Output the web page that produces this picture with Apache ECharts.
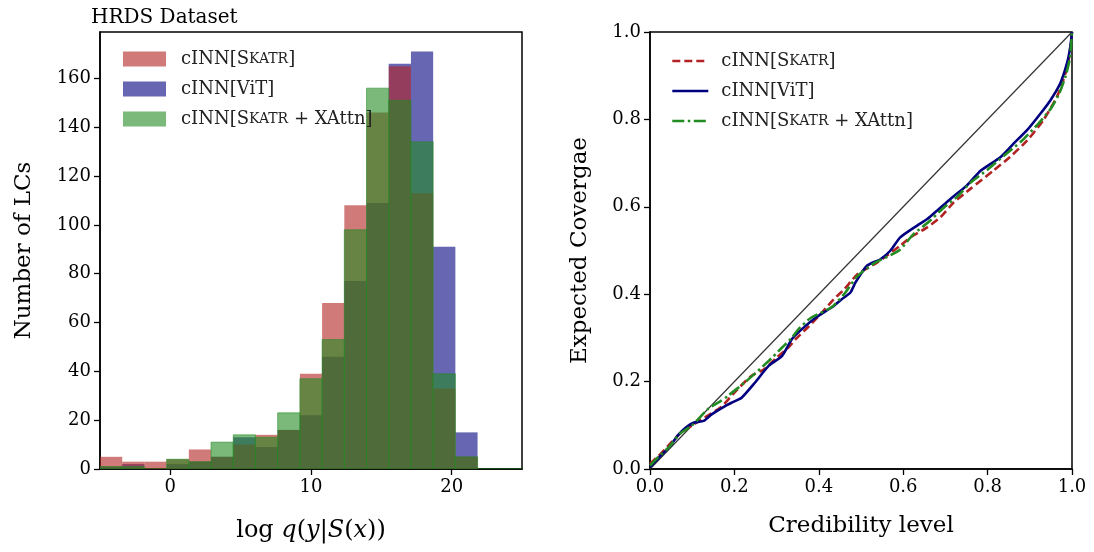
<!DOCTYPE html>
<html><head><meta charset="utf-8">
<script src="https://cdn.jsdelivr.net/npm/echarts@6/dist/echarts.min.js"></script>
<style>html,body{margin:0;padding:0;background:#fff}#c{width:1094px;height:552px}</style>
</head><body><div id="c"></div>
<script>
// ---- Histogram data (left panel) ----
const binStart = -5;
const binEnd = 25;
const countsSkatr = [5, 3, 3, 4, 8, 5, 10, 14, 16, 39, 68, 108, 146, 165, 113, 33, 5, 0, 0];
const countsViT   = [1, 2, 0, 2, 3, 5, 13, 9, 16, 22, 46, 77, 109, 166, 171, 91, 15, 0, 0];
const countsXAttn = [1, 1, 0, 4, 3, 11, 14, 13, 23, 37, 53, 98, 156, 151, 134, 39, 5, 0, 0];
const histTicks = [0, 10, 20];
const histYTicks = [0, 20, 40, 60, 80, 100, 120, 140, 160];

// ---- Coverage data (right panel) ----
const credSkatr = [0, 0.02, 0.045, 0.07, 0.1, 0.13, 0.17, 0.2, 0.24, 0.27, 0.3, 0.33, 0.345, 0.377, 0.4, 0.436, 0.46, 0.492, 0.539, 0.593, 0.617, 0.657, 0.688, 0.72, 0.759, 0.814, 0.853, 0.894, 0.932, 0.964, 0.979, 0.991, 1.0];
const covSkatr  = [0.012, 0.03, 0.055, 0.08, 0.1, 0.118, 0.143, 0.175, 0.213, 0.228, 0.255, 0.28, 0.297, 0.327, 0.35, 0.389, 0.411, 0.446, 0.473, 0.511, 0.53, 0.553, 0.576, 0.61, 0.641, 0.683, 0.714, 0.752, 0.798, 0.851, 0.889, 0.928, 1.0];
const credViT = [0, 0.02, 0.047, 0.067, 0.085, 0.103, 0.127, 0.146, 0.178, 0.194, 0.217, 0.249, 0.281, 0.313, 0.336, 0.36, 0.391, 0.431, 0.455, 0.475, 0.487, 0.514, 0.546, 0.57, 0.593, 0.633, 0.657, 0.68, 0.712, 0.751, 0.784, 0.831, 0.862, 0.894, 0.925, 0.949, 0.972, 0.988, 0.996, 1.0];
const covViT  = [0.005, 0.025, 0.052, 0.078, 0.095, 0.106, 0.11, 0.125, 0.144, 0.152, 0.163, 0.198, 0.236, 0.259, 0.297, 0.32, 0.345, 0.37, 0.389, 0.404, 0.427, 0.465, 0.48, 0.5, 0.53, 0.557, 0.572, 0.591, 0.618, 0.649, 0.683, 0.714, 0.745, 0.776, 0.813, 0.844, 0.882, 0.928, 0.966, 1.0];
const credXAttn = [0, 0.02, 0.045, 0.07, 0.1, 0.137, 0.168, 0.184, 0.227, 0.281, 0.313, 0.336, 0.352, 0.38, 0.43, 0.46, 0.49, 0.53, 0.59, 0.625, 0.66, 0.696, 0.73, 0.759, 0.8, 0.84, 0.88, 0.92, 0.95, 0.97, 0.985, 0.995, 1.0];
const covXAttn  = [0.008, 0.028, 0.05, 0.08, 0.1, 0.137, 0.156, 0.167, 0.2, 0.247, 0.278, 0.3, 0.32, 0.345, 0.37, 0.4, 0.44, 0.47, 0.5, 0.538, 0.565, 0.598, 0.625, 0.655, 0.685, 0.718, 0.75, 0.79, 0.825, 0.86, 0.9, 0.94, 1.0];

const FONT = 'DejaVu Serif';
const nBins = countsSkatr.length;
const bw = (binEnd - binStart) / nBins;
function histData(counts) {
  return counts.map((c, i) => [binStart + i * bw, binStart + (i + 1) * bw, c]);
}
function pairs(xs, ys) { return xs.map((x, i) => [x, ys[i]]); }

function histSeries(name, counts, fill, stroke) {
  return {
    name: name, type: 'custom', xAxisIndex: 0, yAxisIndex: 0,
    data: histData(counts), encode: { x: [0, 1], y: 2 },
    itemStyle: { color: fill },
    clip: true,
    renderItem: function (params, api) {
      const p0 = api.coord([api.value(0), api.value(2)]);
      const p1 = api.coord([api.value(1), 0]);
      return {
        type: 'rect',
        shape: { x: p0[0], y: p0[1], width: p1[0] - p0[0], height: p1[1] - p0[1] },
        style: { fill: fill, stroke: stroke, lineWidth: stroke ? 1 : 0 }
      };
    }
  };
}

const tickStyle = { show: true, inside: false, length: 6, lineStyle: { color: '#000', width: 1.3 } };
const axisLine = { show: true, onZero: false, lineStyle: { color: '#000', width: 1.5 } };
const labelStyle = { color: '#000', fontFamily: FONT, fontSize: 18, margin: 9 };

const nameSK = 'cINN[SKATR]';
const nameViT = 'cINN[ViT]';
const nameXA = 'cINN[SKATR + XAttn]';
function fmtLegend(n) {
  if (n === nameSK) return '{a|cINN[S}{b|KATR}{a|]}';
  if (n === nameXA) return '{a|cINN[S}{b|KATR}{a| + XAttn]}';
  return '{a|' + n + '}';
}
const legendRich = {
  a: { fontFamily: FONT, fontSize: 18, color: '#222' },
  b: { fontFamily: FONT, fontSize: 14, color: '#222' }
};

const option = {
  backgroundColor: '#fff',
  animation: false,
  title: { text: 'HRDS Dataset', left: 86, top: 3, textStyle: { fontFamily: FONT, fontSize: 20, fontWeight: 'normal', color: '#000' } },
  grid: [
    { left: 100, right: 572, top: 32, bottom: 83, show: true, borderColor: '#000', borderWidth: 1.5, backgroundColor: 'transparent' },
    { left: 650, right: 22, top: 32, bottom: 83, show: true, borderColor: '#000', borderWidth: 1.5, backgroundColor: 'transparent' }
  ],
  legend: [
    { data: [nameSK, nameViT, nameXA], orient: 'vertical', left: 118, top: 45, itemWidth: 43, itemHeight: 15, itemGap: 12, icon: 'rect',
      formatter: fmtLegend, textStyle: { rich: legendRich, padding: [0, 0, 0, 10] } },
    { data: [nameSK + ' ', nameViT + ' ', nameXA + ' '], orient: 'vertical', left: 666, top: 47, itemWidth: 36, itemHeight: 12, itemGap: 12,
      itemStyle: { opacity: 0, color: 'rgba(0,0,0,0)', borderWidth: 0 },
      lineStyle: { width: 2.6 },
      formatter: function (n) { return fmtLegend(n.trim()); }, textStyle: { rich: legendRich, padding: [0, 0, 0, 8] } }
  ],
  xAxis: [
    { type: 'value', gridIndex: 0, min: binStart, max: binEnd, axisLine: axisLine, axisTick: Object.assign({ customValues: histTicks }, tickStyle),
      axisLabel: Object.assign({ customValues: histTicks }, labelStyle), splitLine: { show: false },
      name: '{n|log }{i|q}{n|(}{i|y}{n||}{i|S}{n|(}{i|x}{n|))}', nameLocation: 'middle', nameGap: 50,
      nameTextStyle: { rich: { n: { fontFamily: FONT, fontSize: 24, color: '#000' }, i: { fontFamily: FONT, fontSize: 24, fontStyle: 'italic', color: '#000' } } } },
    { type: 'value', gridIndex: 1, min: 0, max: 1, interval: 0.2, axisLine: axisLine, axisTick: tickStyle,
      axisLabel: Object.assign({ formatter: v => v.toFixed(1) }, labelStyle), splitLine: { show: false },
      name: 'Credibility level', nameLocation: 'middle', nameGap: 46, nameTextStyle: { fontFamily: FONT, fontSize: 23, color: '#000' } }
  ],
  yAxis: [
    { type: 'value', gridIndex: 0, min: 0, max: 179, axisLine: axisLine, axisTick: Object.assign({ customValues: histYTicks }, tickStyle),
      axisLabel: Object.assign({ customValues: histYTicks }, labelStyle), splitLine: { show: false },
      name: 'Number of LCs', nameLocation: 'middle', nameGap: 64, nameTextStyle: { fontFamily: FONT, fontSize: 23, color: '#000' } },
    { type: 'value', gridIndex: 1, min: 0, max: 1, interval: 0.2, axisLine: axisLine, axisTick: tickStyle,
      axisLabel: Object.assign({ formatter: v => v.toFixed(1) }, labelStyle), splitLine: { show: false },
      name: 'Expected Covergae', nameLocation: 'middle', nameGap: 58, nameTextStyle: { fontFamily: FONT, fontSize: 23, color: '#000' } }
  ],
  series: [
    histSeries(nameViT, countsViT, 'rgba(0,0,128,0.6)', null),
    histSeries(nameSK, countsSkatr, 'rgba(178,34,34,0.6)', null),
    histSeries(nameXA, countsXAttn, 'rgba(34,139,34,0.6)', 'rgba(34,139,34,0.55)'),
    { type: 'line', xAxisIndex: 1, yAxisIndex: 1, data: [[0, 0], [1, 1]], symbol: 'none', silent: true,
      lineStyle: { color: '#333', width: 1.2 } },
    { name: nameSK + ' ', type: 'line', xAxisIndex: 1, yAxisIndex: 1, data: pairs(credSkatr, covSkatr), symbol: 'none', smooth: 0.2,
      itemStyle: { color: '#b22222' }, lineStyle: { color: '#b22222', width: 2.6, type: [8, 4] } },
    { name: nameViT + ' ', type: 'line', xAxisIndex: 1, yAxisIndex: 1, data: pairs(credViT, covViT), symbol: 'none', smooth: 0.2,
      itemStyle: { color: '#000080' }, lineStyle: { color: '#000080', width: 2.6 } },
    { name: nameXA + ' ', type: 'line', xAxisIndex: 1, yAxisIndex: 1, data: pairs(credXAttn, covXAttn), symbol: 'none', smooth: 0.2,
      itemStyle: { color: '#228b22' }, lineStyle: { color: '#228b22', width: 2.6, type: [12, 3.5, 2.5, 3.5] } }
  ]
};
const chart = echarts.init(document.getElementById('c'), null, { renderer: 'canvas' });
chart.setOption(option);
</script></body></html>
